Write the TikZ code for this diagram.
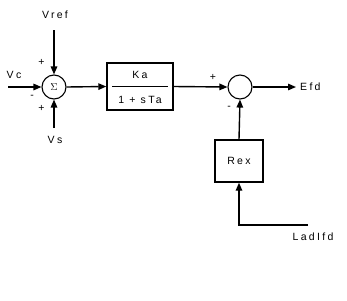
\documentclass[tikz,border=0pt]{standalone}
\usepackage{fontspec}
\setmainfont{Liberation Sans}[LetterSpace=22]
\usetikzlibrary{arrows.meta}
\begin{document}
\begin{tikzpicture}[x=1pt,y=-1pt,
  wire/.style={line width=1.4pt},
  sig/.style={wire,-{Triangle[length=8pt,width=6.5pt]}},
  sumc/.style={draw,line width=1.1pt,circle,minimum size=24pt,inner sep=0pt},
  blk/.style={draw,line width=1.4pt,inner sep=0pt},
  lbl/.style={font=\fontsize{10.5}{11}\selectfont,inner sep=0pt},
  sgn/.style={font=\fontsize{10.5}{11}\selectfont,inner sep=0pt}]
\useasboundingbox (0,0) rectangle (347,300);

% summing junctions
\node[sumc] (s1) at (54,87) {\fontsize{10}{10}\selectfont$\Sigma$};
\node[sumc] (s2) at (240,87) {};

% blocks
\node[blk,minimum width=66pt,minimum height=47pt] (ka) at (140,86.5) {};
\node[lbl] (kanum) at (140,75) {Ka};
\node[lbl] (kaden) at (140,100) {1 + sTa};
\draw[line width=1.3pt] ([xshift=6pt]ka.west) -- ([xshift=-6pt]ka.east);
\node[blk,minimum width=48pt,minimum height=42pt,font=\fontsize{10.5}{11}\selectfont] (rex) at (239,161) {Rex};

% signal labels
\node[lbl] (vref) at (55,15) {Vref};
\node[lbl] (vc) at (14,75) {Vc};
\node[lbl] (vs) at (55,140) {Vs};
\node[lbl,anchor=west] (efd) at (300,87) {Efd};
\node[lbl] (ladifd) at (313,237) {LadIfd};

\coordinate (vreft) at (54,30);
\coordinate (vcs) at (8,87);
\coordinate (vsb) at (54,128);
\coordinate (efdend) at (296,87);
\coordinate (ladc) at (239,225);
\coordinate (lads) at (308,225);

% signs
\node[sgn] (p1) at (41.5,62) {+};
\node[sgn] (m1) at (32,97) {-};
\node[sgn] (p2) at (41.5,108) {+};
\node[sgn] (p3) at (213,77) {+};
\node[sgn] (m2) at (229,108) {-};

% connections
\draw[sig] (vreft) -- (s1.north);
\draw[sig] (vcs) -- (s1.west);
\draw[sig] (vsb) -- (s1.south);
\draw[sig] (s1.east) -- (ka.west);
\draw[sig] (ka.east) -- (s2.west);
\draw[sig] (s2.east) -- (efdend);
\draw[sig] (rex.north) -- (s2.south);
\draw[sig] (lads) -- (ladc) -- (rex.south);
\end{tikzpicture}
\end{document}
